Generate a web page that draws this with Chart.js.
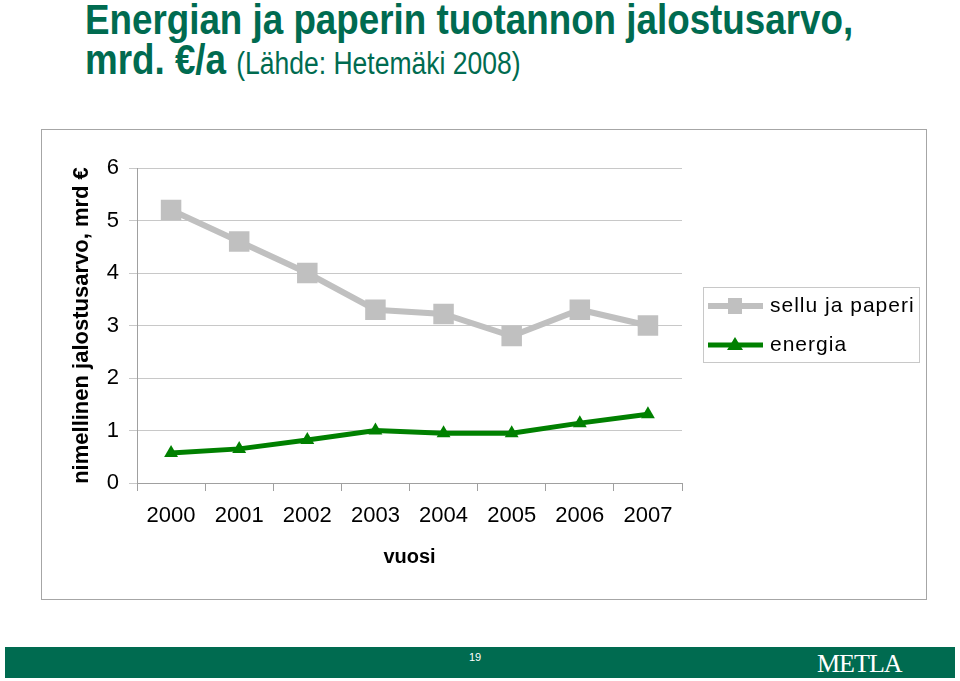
<!DOCTYPE html>
<html>
<head>
<meta charset="utf-8">
<script src="https://cdn.jsdelivr.net/npm/chart.js@4.4.0/dist/chart.umd.min.js"></script>
<style>
  html, body { margin: 0; padding: 0; background: #fff; }
  body { width: 960px; height: 681px; position: relative; overflow: hidden; font-family: "Liberation Sans", Arial, sans-serif; }
  .title { position: absolute; left: 85px; top: -1px; color: #006B50; font-family: "Liberation Sans", Arial, sans-serif; font-weight: bold; font-size: 43px; line-height: 40px; white-space: nowrap; transform: scaleX(0.855); transform-origin: 0 0; }
  .title .src { font-weight: normal; font-size: 31px; }
  .frame { position: absolute; left: 41px; top: 129px; width: 884px; height: 469px; border: 1px solid #a6a6a6; }
  .frame canvas { position: absolute; left: -1px; top: -1px; }
  .footer { position: absolute; left: 5px; top: 647px; width: 950px; height: 31px; background: #006B50; color: #fff; }
  .footer .page { position: absolute; left: 464px; top: 4px; font-size: 11px; }
  .footer .logo { position: absolute; left: 812px; top: 2px; font-family: "Liberation Serif", "DejaVu Serif", serif; font-size: 26px; letter-spacing: -1px; }
</style>
</head>
<body>
<div class="title">Energian ja paperin tuotannon jalostusarvo,<br>mrd. €/a <span class="src">(Lähde: Hetemäki 2008)</span></div>
<div class="frame"><canvas id="chart" width="886" height="471"></canvas></div>
<div class="footer"><span class="page">19</span><span class="logo">METLA</span></div>
<script>
const years = ['2000', '2001', '2002', '2003', '2004', '2005', '2006', '2007'];
const selluPaperi = [5.2, 4.6, 4.0, 3.3, 3.22, 2.8, 3.3, 3.0];
const energia = [0.57, 0.65, 0.82, 1.0, 0.95, 0.95, 1.14, 1.31];
const yTicks = [0, 1, 2, 3, 4, 5, 6];

const legendBox = {
  id: 'legendBox',
  afterDraw(chart) {
    const ctx = chart.ctx;
    const x0 = 662, y0 = 158, w = 216, h = 75;
    ctx.save();
    ctx.strokeStyle = '#c8c8c8';
    ctx.lineWidth = 1;
    ctx.strokeRect(x0 + 0.5, y0 + 0.5, w, h);
    chart.data.datasets.forEach((ds, i) => {
      const y = y0 + 19 + i * 39;
      ctx.strokeStyle = ds.borderColor;
      ctx.lineWidth = ds.borderWidth;
      ctx.beginPath();
      ctx.moveTo(x0 + 5, y);
      ctx.lineTo(x0 + 60, y);
      ctx.stroke();
      ctx.fillStyle = ds.pointBackgroundColor;
      const cx = x0 + 32;
      if (ds.pointStyle === 'rect') {
        ctx.fillRect(cx - 7, y - 8, 14, 16);
      } else {
        ctx.beginPath();
        ctx.moveTo(cx, y - 8);
        ctx.lineTo(cx + 8, y + 5);
        ctx.lineTo(cx - 8, y + 5);
        ctx.closePath();
        ctx.fill();
      }
      ctx.fillStyle = '#000';
      ctx.font = '21px "Liberation Sans", Arial, sans-serif';
      ctx.textBaseline = 'middle';
      if ('letterSpacing' in ctx) ctx.letterSpacing = '1px';
      ctx.fillText(ds.label, x0 + 67, y);
    });
    ctx.restore();
  }
};

new Chart(document.getElementById('chart'), {
  type: 'line',
  data: {
    labels: years,
    datasets: [
      {
        label: 'sellu ja paperi', data: selluPaperi,
        borderColor: '#c0c0c0', backgroundColor: '#c0c0c0', pointBackgroundColor: '#c0c0c0',
        borderWidth: 6, pointStyle: 'rect', pointRadius: 14.5, pointBorderWidth: 0, tension: 0
      },
      {
        label: 'energia', data: energia,
        borderColor: '#008000', backgroundColor: '#008000', pointBackgroundColor: '#008000',
        borderWidth: 5, pointStyle: 'triangle', pointRadius: 8, pointBorderWidth: 0, tension: 0
      }
    ]
  },
  options: {
    responsive: false,
    animation: false,
    layout: { padding: { top: 39, right: 245, bottom: 0, left: 0 } },
    plugins: { legend: { display: false }, tooltip: { enabled: false } },
    scales: {
      x: {
        offset: true,
        afterFit: (s) => { s.height = 117; },
        grid: { offset: true, drawOnChartArea: false, drawTicks: true, tickLength: 8, color: '#a0a0a0' },
        border: { color: '#a0a0a0' },
        ticks: { color: '#000', padding: 12, maxRotation: 0, autoSkip: false, font: { size: 22, family: '"Liberation Sans", Arial, sans-serif' } },
        title: { display: true, text: 'vuosi', color: '#000', padding: { top: 4, bottom: 31 }, font: { size: 20, weight: 'bold', family: '"Liberation Sans", Arial, sans-serif' } }
      },
      y: {
        min: 0, max: 6,
        afterFit: (s) => { s.width = 96; },
        afterBuildTicks: (s) => { s.ticks = yTicks.map((v) => ({ value: v })); },
        grid: { color: '#c8c8c8', tickLength: 8 },
        border: { color: '#a0a0a0' },
        ticks: { color: '#000', padding: 10, font: { size: 22, family: '"Liberation Sans", Arial, sans-serif' } },
        title: { display: true, text: 'nimellinen jalostusarvo, mrd €', color: '#000', padding: { top: 28, bottom: 4 }, font: { size: 22, weight: 'bold', family: '"Liberation Sans", Arial, sans-serif' } }
      }
    }
  },
  plugins: [legendBox]
});
</script>
</body>
</html>
